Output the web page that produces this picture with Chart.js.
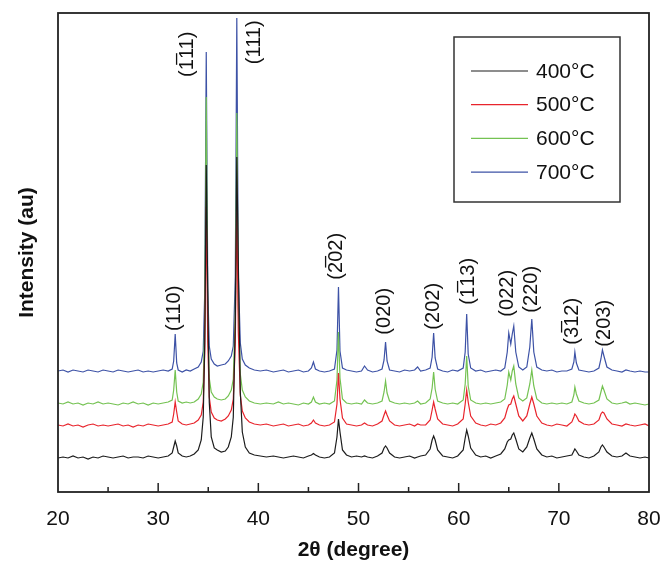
<!DOCTYPE html>
<html>
<head>
<meta charset="utf-8">
<script src="https://cdn.jsdelivr.net/npm/chart.js@4.4.1/dist/chart.umd.min.js"></script>
<style>
  body { margin: 0; background: #fff; }
  #wrap { width: 672px; height: 578px; }
</style>
</head>
<body>
<div id="wrap"><canvas id="xrdChart" width="672" height="578"></canvas></div>
<script>
// 2θ positions shared by the four patterns
const twoTheta = [
  20, 20.5, 21, 21.5, 22, 22.5, 23, 23.5, 24, 24.5,
  25, 25.5, 26, 26.5, 27, 27.5, 28, 28.5, 29, 29.5,
  30, 30.5, 31, 31.4, 31.55, 31.7, 31.85, 32.0, 32.4, 32.8,
  33.2, 33.6, 34.0, 34.3, 34.5, 34.65, 34.8, 34.95, 35.1, 35.3,
  35.6, 35.9, 36.3, 36.7, 37.0, 37.3, 37.5, 37.7, 37.85, 38.0,
  38.2, 38.4, 38.7, 39.1, 39.6, 40.2, 40.8, 41.5, 42.0, 42.5,
  43.0, 43.5, 44.0, 44.5, 45.0, 45.3, 45.5, 45.7, 46.1, 46.6,
  47.1, 47.6, 47.85, 48.0, 48.15, 48.4, 48.8, 49.3, 49.8, 50.3,
  50.6, 50.9, 51.4, 51.9, 52.35, 52.55, 52.7, 52.85, 53.1, 53.6,
  54.1, 54.6, 55.1, 55.6, 55.9, 56.2, 56.7, 57.15, 57.35, 57.5,
  57.65, 57.9, 58.4, 58.9, 59.4, 59.9, 60.45, 60.65, 60.8, 60.95,
  61.2, 61.7, 62.2, 62.7, 63.2, 63.7, 64.2, 64.6, 64.85, 65.0,
  65.2, 65.35, 65.5, 65.7, 66.0, 66.4, 66.8, 67.1, 67.3, 67.5,
  67.8, 68.3, 68.8, 69.3, 69.8, 70.3, 70.8, 71.3, 71.5, 71.6,
  71.75, 72.0, 72.5, 73.0, 73.5, 74.0, 74.2, 74.35, 74.5, 74.8,
  75.3, 75.8, 76.3, 76.7, 77.1, 77.6, 78.1, 78.6, 79.0
];

// intensities (au, already stacked)
const int400 = [
  34, 35, 34, 36, 34, 35, 33, 35, 34, 36,
  35, 34, 35, 36, 34, 35, 35, 34, 36, 35,
  34, 35, 36, 39, 45, 51, 46, 39, 36, 35,
  36, 38, 42, 52, 75, 150, 327, 200, 90, 55,
  44, 42, 40, 41, 45, 55, 75, 170, 335, 230,
  100, 60, 45, 39, 37, 36, 35, 36, 35, 34,
  35, 36, 35, 34, 36, 37, 38.5, 37, 35, 34,
  35, 39, 55, 73, 60, 42, 37, 35, 36, 35,
  36, 35, 34, 36, 39, 44, 46, 44, 39, 35,
  34, 35, 36, 34, 35, 36, 37, 43, 52, 56,
  52, 42, 36, 35, 34, 36, 42, 54, 62, 56,
  44, 37, 35, 36, 34, 36, 38, 43, 50, 52,
  53, 57, 59, 53, 43, 40, 45, 54, 59, 53,
  43, 37, 35, 36, 34, 35, 36, 37, 41, 43,
  41, 37, 35, 34, 36, 40, 45, 47, 45, 40,
  36, 35, 36, 39, 36, 35, 34, 35, 34
];
const int500 = [
  67, 66, 68, 66, 67, 65, 67, 68, 66, 67,
  66, 67, 68, 66, 67, 65, 67, 66, 68, 67,
  66, 67, 68, 70, 78, 90, 80, 71, 68, 67,
  68, 69, 72, 77, 90, 140, 285, 150, 95, 80,
  74, 72, 71, 73, 76, 82, 93, 150, 287, 160,
  97, 81, 74, 70, 68, 67, 68, 66, 67, 68,
  66, 67, 68, 66, 67, 69, 72, 69, 67, 66,
  67, 70, 88, 119, 93, 74, 68, 67, 66, 67,
  69, 67, 66, 68, 71, 77, 81, 77, 71, 67,
  66, 67, 68, 66, 68, 67, 67, 72, 82, 90,
  83, 73, 68, 67, 66, 68, 73, 88, 102, 90,
  76, 69, 67, 66, 68, 67, 69, 74, 83, 87,
  88, 93, 96, 88, 76, 71, 76, 88, 95, 88,
  76, 69, 67, 66, 68, 67, 66, 70, 75, 78,
  76, 71, 68, 67, 68, 72, 78, 80, 79, 73,
  68, 67, 66, 68, 67, 66, 67, 68, 66
];
const int600 = [
  89, 88, 90, 88, 89, 87, 89, 88, 90, 88,
  89, 88, 87, 89, 88, 90, 88, 89, 87, 89,
  88, 89, 90, 92, 102, 122, 100, 91, 89, 90,
  89, 90, 93, 98, 110, 170, 395, 175, 114, 100,
  95, 93, 92, 93, 96, 102, 113, 180, 379, 186,
  118, 102, 95, 91, 89, 88, 89, 88, 90, 88,
  89, 88, 87, 89, 88, 90, 95, 90, 88, 89,
  88, 91, 112, 160, 114, 93, 89, 88, 89, 88,
  92, 89, 88, 89, 91, 100, 111, 99, 91, 89,
  88, 89, 88, 89, 91, 88, 89, 93, 104, 120,
  103, 91, 89, 88, 89, 88, 92, 108, 136, 106,
  92, 89, 88, 89, 88, 89, 90, 93, 107, 120,
  112, 121, 126, 108, 94, 91, 94, 108, 122, 106,
  93, 89, 88, 89, 88, 89, 88, 90, 97, 105,
  98, 91, 89, 88, 89, 92, 100, 106, 102, 93,
  89, 88, 89, 90, 88, 89, 88, 87, 88
];
const int700 = [
  121, 122, 120, 122, 121, 120, 122, 121, 120, 122,
  121, 120, 122, 121, 120, 121, 122, 120, 121, 120,
  121, 122, 121, 123, 131, 158, 129, 122, 120, 122,
  121, 123, 125, 130, 141, 200, 440, 205, 146, 133,
  128, 126, 127, 128, 131, 136, 146, 215, 474, 218,
  149, 133, 127, 124, 122, 121, 122, 120, 121, 122,
  120, 121, 122, 120, 121, 124, 130, 123, 121, 120,
  121, 123, 142, 205, 141, 124, 122, 121, 120, 121,
  126, 122, 120, 121, 123, 132, 150, 131, 122, 121,
  120, 122, 121, 122, 125, 121, 122, 124, 135, 159,
  134, 123, 121, 120, 122, 121, 124, 140, 178, 138,
  124, 121, 122, 120, 121, 122, 121, 124, 140, 159,
  148, 158, 166, 140, 125, 122, 125, 145, 173, 140,
  125, 122, 121, 122, 120, 121, 121, 123, 130, 140,
  129, 122, 121, 120, 121, 124, 133, 142, 136, 125,
  122, 121, 120, 122, 121, 120, 121, 120, 120
];

const seriesNames = ['400°C', '500°C', '600°C', '700°C'];
const seriesColors = ['#1c1c1c', '#e8242c', '#74c252', '#3d52a6'];

// x axis ticks (the frame ends at 79 but is labelled 80)
const xTickValues = [20, 25, 30, 35, 40, 45, 50, 55, 60, 65, 70, 75, 79];
const xTickLabels = ['20', '', '30', '', '40', '', '50', '', '60', '', '70', '', '80'];

// peak indices (Miller) and where their labels sit
const peakNames = ['(110)', '(1\u030511)', '(111)', '(2\u030502)', '(020)', '(202)',
                   '(1\u030513)', '(022)', '(220)', '(3\u030512)', '(203)'];
const peakLabelX = [31.67, 32.9, 39.57, 47.85, 52.63, 57.5, 61.0, 64.89, 67.28, 71.4, 74.57];
const peakLabelY = [183.7, 437.7, 449.7, 235.7, 180.7, 185.7, 210.7, 198.7, 202.7, 170.7, 168.7];

const FONT = "'Liberation Sans', Arial, sans-serif";

const pattern = [int400, int500, int600, int700];
const datasets = pattern.map(function(vals, i) {
    return {
        label: seriesNames[i],
        data: vals.map(function(v, k) { return { x: twoTheta[k], y: v }; }),
        borderColor: seriesColors[i],
        borderWidth: 1.2,
        pointRadius: 0,
        tension: 0,
        fill: false
    };
});

// frame and inward tick marks
const framePlugin = {
    id: 'frame',
    afterDraw(chart) {
        const ctx = chart.ctx;
        const a = chart.chartArea;
        const xs = chart.scales.x;
        ctx.save();
        ctx.strokeStyle = '#222';
        ctx.lineWidth = 1.8;
        ctx.strokeRect(a.left, a.top, a.right - a.left, a.bottom - a.top);
        ctx.lineWidth = 1.5;
        xTickValues.forEach(function(v, i) {
            if (v <= xs.min || v >= xs.max) return;
            const px = xs.getPixelForValue(v);
            const len = xTickLabels[i] ? 9 : 5;
            ctx.beginPath();
            ctx.moveTo(px, a.bottom);
            ctx.lineTo(px, a.bottom - len);
            ctx.stroke();
        });
        ctx.restore();
    }
};

// rotated Miller index labels
const peakLabelPlugin = {
    id: 'peakLabels',
    afterDatasetsDraw(chart) {
        const ctx = chart.ctx;
        const xs = chart.scales.x, ys = chart.scales.y;
        ctx.save();
        ctx.fillStyle = '#111';
        ctx.font = '20px ' + FONT;
        ctx.textAlign = 'center';
        ctx.textBaseline = 'middle';
        peakNames.forEach(function(t, i) {
            ctx.save();
            ctx.translate(xs.getPixelForValue(peakLabelX[i]), ys.getPixelForValue(peakLabelY[i]));
            ctx.rotate(-Math.PI / 2);
            ctx.fillText(t, 0, 0);
            ctx.restore();
        });
        ctx.restore();
    }
};

// boxed legend in the upper right
const boxLegendPlugin = {
    id: 'boxLegend',
    afterDraw(chart) {
        const ctx = chart.ctx;
        const bx = 454, by = 37, bw = 166, bh = 165;
        ctx.save();
        ctx.fillStyle = '#fff';
        ctx.fillRect(bx, by, bw, bh);
        ctx.strokeStyle = '#333';
        ctx.lineWidth = 1.5;
        ctx.strokeRect(bx, by, bw, bh);
        ctx.font = '21px ' + FONT;
        ctx.textBaseline = 'middle';
        chart.data.datasets.forEach(function(ds, i) {
            const y = 71 + i * 33.7;
            ctx.strokeStyle = ds.borderColor;
            ctx.lineWidth = 1.2;
            ctx.beginPath();
            ctx.moveTo(471, y);
            ctx.lineTo(528, y);
            ctx.stroke();
            ctx.fillStyle = '#111';
            ctx.fillText(ds.label, 536, y + 1);
        });
        ctx.restore();
    }
};

document.addEventListener('DOMContentLoaded', function() {
    const ctx = document.getElementById('xrdChart').getContext('2d');
    new Chart(ctx, {
        type: 'line',
        data: { datasets: datasets },
        options: {
            responsive: false,
            animation: false,
            layout: { padding: { top: 13, right: 23, left: 0, bottom: 0 } },
            plugins: {
                legend: { display: false },
                tooltip: { enabled: false }
            },
            scales: {
                x: {
                    type: 'linear',
                    min: 20,
                    max: 79,
                    afterBuildTicks: function(scale) {
                        scale.ticks = xTickValues.map(function(v) { return { value: v }; });
                    },
                    afterFit: function(scale) {
                        scale.height = 86;
                        scale.paddingLeft = 0;
                        scale.paddingRight = 0;
                    },
                    grid: { display: false, drawTicks: false },
                    border: { display: false },
                    ticks: {
                        autoSkip: false,
                        maxRotation: 0,
                        padding: 15,
                        color: '#111',
                        font: { family: FONT, size: 21 },
                        callback: function(v, i) { return xTickLabels[i]; }
                    },
                    title: {
                        display: true,
                        text: '2θ (degree)',
                        color: '#111',
                        font: { family: FONT, size: 21, weight: 'bold' },
                        padding: { top: 0, bottom: 15 }
                    }
                },
                y: {
                    min: 0,
                    max: 479,
                    afterFit: function(scale) { scale.width = 58; },
                    grid: { display: false, drawTicks: false },
                    border: { display: false },
                    ticks: { display: false },
                    title: {
                        display: true,
                        text: 'Intensity (au)',
                        color: '#111',
                        font: { family: FONT, size: 21, weight: 'bold' },
                        padding: { top: 15, bottom: 0 }
                    }
                }
            }
        },
        plugins: [framePlugin, peakLabelPlugin, boxLegendPlugin]
    });
});
</script>
</body>
</html>
